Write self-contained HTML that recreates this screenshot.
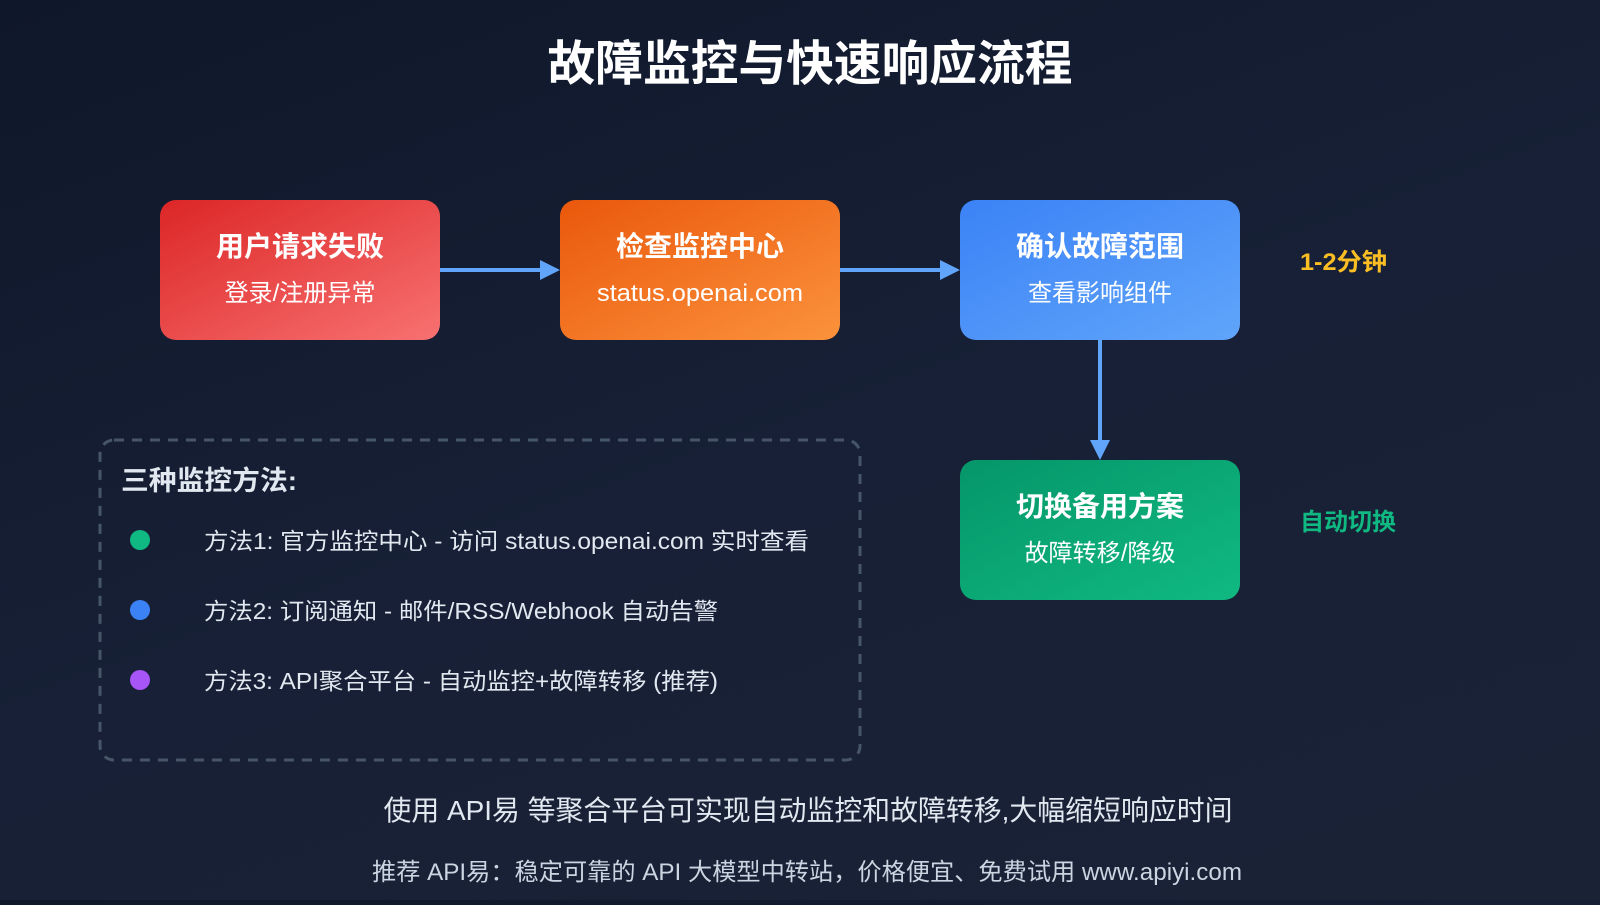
<!DOCTYPE html>
<html><head><meta charset="utf-8"><style>
body{margin:0;width:1600px;height:900px;overflow:hidden;background:linear-gradient(160deg,#0f172a 0%,#172036 50%,#1a2236 100%);font-family:"Liberation Sans","Noto Sans CJK SC",sans-serif;}
</style></head><body>
<svg width="1600" height="900" xmlns="http://www.w3.org/2000/svg" style="font-family:'Liberation Sans','Noto Sans CJK SC',sans-serif">
<defs>
<linearGradient id="r" x1="0" y1="0" x2="1" y2="1"><stop offset="0" stop-color="#dc2626"/><stop offset="1" stop-color="#f87171"/></linearGradient>
<linearGradient id="o" x1="0" y1="0" x2="1" y2="1"><stop offset="0" stop-color="#ea580c"/><stop offset="1" stop-color="#fb923c"/></linearGradient>
<linearGradient id="b" x1="0" y1="0" x2="1" y2="1"><stop offset="0" stop-color="#3b82f6"/><stop offset="1" stop-color="#60a5fa"/></linearGradient>
<linearGradient id="g" x1="0" y1="0" x2="1" y2="1"><stop offset="0" stop-color="#059669"/><stop offset="1" stop-color="#10b981"/></linearGradient>
</defs>
<text x="810" y="80" text-anchor="middle" fill="#fff" font-size="48" font-weight="bold" textLength="525" lengthAdjust="spacingAndGlyphs">故障监控与快速响应流程</text>
<rect x="160" y="200" width="280" height="140" rx="16" fill="url(#r)"/>
<rect x="560" y="200" width="280" height="140" rx="16" fill="url(#o)"/>
<rect x="960" y="200" width="280" height="140" rx="16" fill="url(#b)"/>
<rect x="960" y="460" width="280" height="140" rx="16" fill="url(#g)"/>
<g fill="#fff" text-anchor="middle">
<text x="300" y="256" font-size="28" font-weight="bold" textLength="168" lengthAdjust="spacingAndGlyphs">用户请求失败</text>
<text x="300" y="301" font-size="24" textLength="151" lengthAdjust="spacingAndGlyphs">登录/注册异常</text>
<text x="700" y="256" font-size="28" font-weight="bold" textLength="168" lengthAdjust="spacingAndGlyphs">检查监控中心</text>
<text x="700" y="301" font-size="24" textLength="206" lengthAdjust="spacingAndGlyphs">status.openai.com</text>
<text x="1100" y="256" font-size="28" font-weight="bold" textLength="168" lengthAdjust="spacingAndGlyphs">确认故障范围</text>
<text x="1100" y="301" font-size="24" textLength="144" lengthAdjust="spacingAndGlyphs">查看影响组件</text>
<text x="1100" y="516" font-size="28" font-weight="bold" textLength="168" lengthAdjust="spacingAndGlyphs">切换备用方案</text>
<text x="1100" y="561" font-size="24" textLength="151" lengthAdjust="spacingAndGlyphs">故障转移/降级</text>
</g>
<g stroke="#60a5fa" stroke-width="4" fill="#60a5fa">
<line x1="440" y1="270" x2="542" y2="270"/><path d="M540 260 L560 270 L540 280Z" stroke="none"/>
<line x1="840" y1="270" x2="942" y2="270"/><path d="M940 260 L960 270 L940 280Z" stroke="none"/>
<line x1="1100" y1="340" x2="1100" y2="442"/><path d="M1090 440 L1100 460 L1110 440Z" stroke="none"/>
</g>
<text x="1300" y="270" fill="#fbbf24" font-size="24" font-weight="bold" textLength="87" lengthAdjust="spacingAndGlyphs">1-2分钟</text>
<text x="1300" y="530" fill="#10b981" font-size="24" font-weight="bold" textLength="96" lengthAdjust="spacingAndGlyphs">自动切换</text>
<rect x="100" y="440" width="760" height="320" rx="14" fill="none" stroke="#475569" stroke-width="3" stroke-dasharray="10,8"/>
<text x="121" y="490" fill="#e2e8f0" font-size="27" font-weight="bold" textLength="176" lengthAdjust="spacingAndGlyphs">三种监控方法:</text>
<circle cx="140" cy="540" r="10" fill="#10b981"/>
<circle cx="140" cy="610" r="10" fill="#3b82f6"/>
<circle cx="140" cy="680" r="10" fill="#a855f7"/>
<g fill="#e2e8f0" font-size="23">
<text x="204" y="549" textLength="605" lengthAdjust="spacingAndGlyphs">方法1: 官方监控中心 - 访问 status.openai.com 实时查看</text>
<text x="204" y="619" textLength="514" lengthAdjust="spacingAndGlyphs">方法2: 订阅通知 - 邮件/RSS/Webhook 自动告警</text>
<text x="204" y="689" textLength="514" lengthAdjust="spacingAndGlyphs">方法3: API聚合平台 - 自动监控+故障转移 (推荐)</text>
</g>
<text x="808" y="820" text-anchor="middle" fill="#e2e8f0" font-size="28" textLength="849" lengthAdjust="spacingAndGlyphs">使用 API易 等聚合平台可实现自动监控和故障转移,大幅缩短响应时间</text>
<text x="807" y="880" text-anchor="middle" fill="#cbd5e1" font-size="24" textLength="870" lengthAdjust="spacingAndGlyphs">推荐 API易：稳定可靠的 API 大模型中转站，价格便宜、免费试用 www.apiyi.com</text>
</svg>
</body></html>
